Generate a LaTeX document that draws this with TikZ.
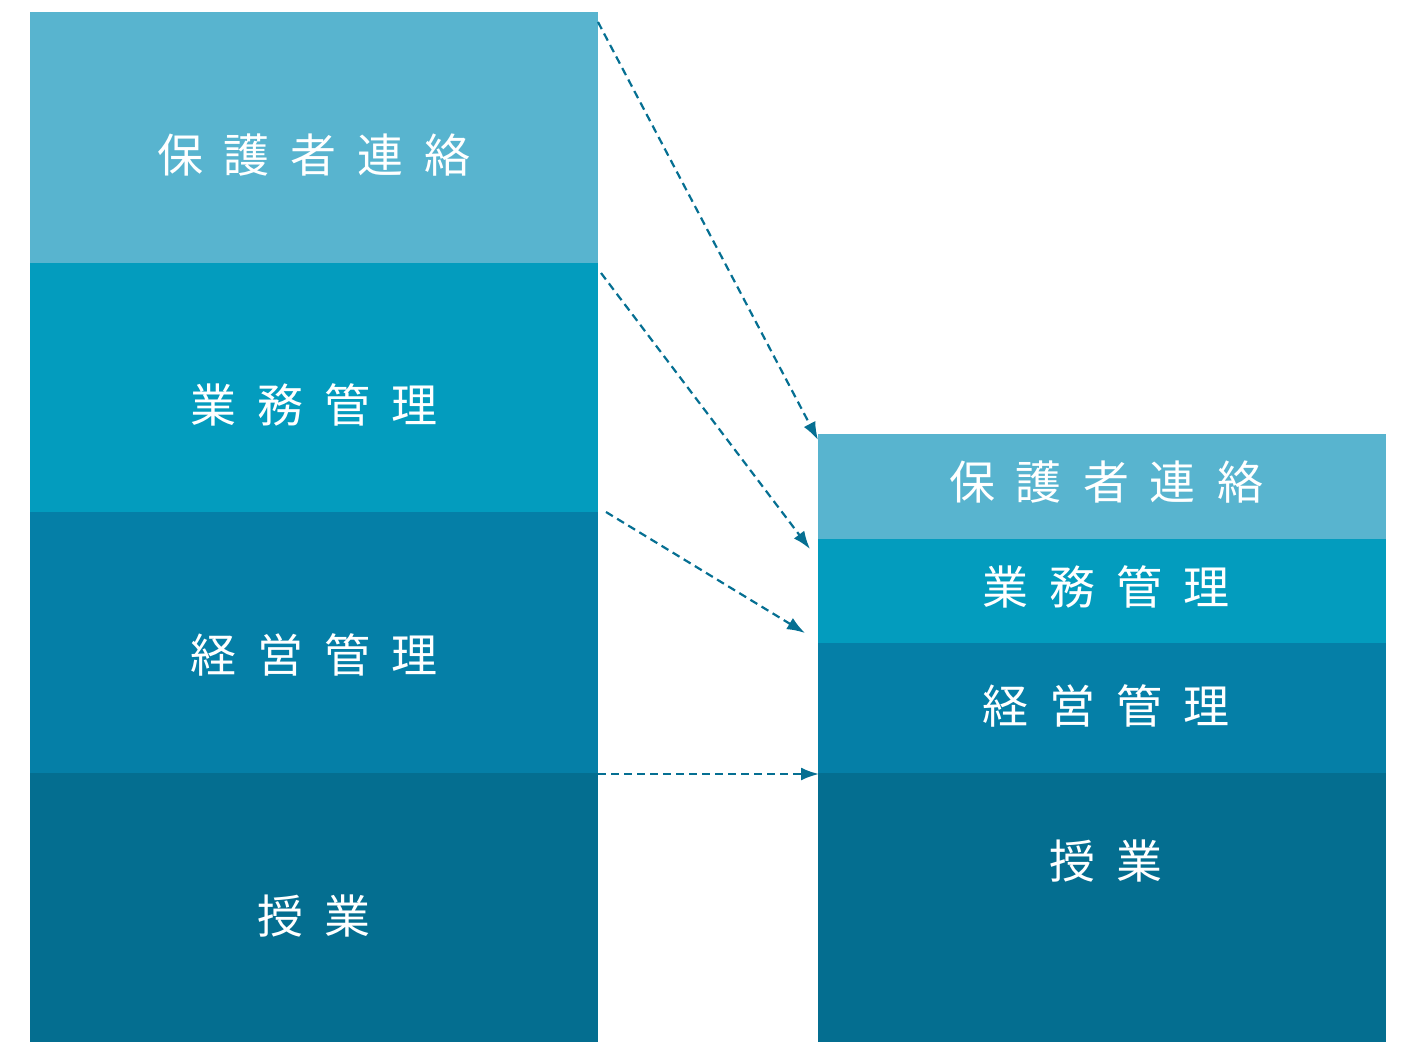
\documentclass[tikz,border=0pt]{standalone}
\usepackage{fontspec}
\newfontfamily\cjk{Noto Sans CJK JP}
\usetikzlibrary{arrows.meta}
\definecolor{c1}{HTML}{58B4CF}
\definecolor{c2}{HTML}{039CBE}
\definecolor{c3}{HTML}{057FA7}
\definecolor{c4}{HTML}{046E90}
\definecolor{arr}{HTML}{056F92}
\newcommand{\gapsp}{\hspace{21pt}}
\tikzset{
  band/.style={fill=#1, draw=none},
  lbl/.style={text=white, font=\cjk\fontsize{46}{50}\selectfont, inner sep=0pt, anchor=center},
  conn/.style={draw=arr, line width=2.2pt, dash pattern=on 8pt off 5pt, -{Latex[length=18pt,width=13pt]}}
}
\begin{document}
\begin{tikzpicture}[x=1pt,y=-1pt]
\useasboundingbox (0,0) rectangle (1411,1042);
% left column
\fill[band=c1] (30,12) rectangle (598,263);
\fill[band=c2] (30,263) rectangle (598,512);
\fill[band=c3] (30,512) rectangle (598,773);
\fill[band=c4] (30,773) rectangle (598,1042);
% right column
\fill[band=c1] (818,434) rectangle (1386,539);
\fill[band=c2] (818,539) rectangle (1386,643);
\fill[band=c3] (818,643) rectangle (1386,773);
\fill[band=c4] (818,773) rectangle (1386,1042);
% labels
\node[lbl] (l1) at (314,155) {保\gapsp 護\gapsp 者\gapsp 連\gapsp 絡};
\node[lbl] (l2) at (314,405) {業\gapsp 務\gapsp 管\gapsp 理};
\node[lbl] (l3) at (314,655) {経\gapsp 営\gapsp 管\gapsp 理};
\node[lbl] (l4) at (314,916) {授\gapsp 業};
\node[lbl] (r1) at (1106,482) {保\gapsp 護\gapsp 者\gapsp 連\gapsp 絡};
\node[lbl] (r2) at (1106,587) {業\gapsp 務\gapsp 管\gapsp 理};
\node[lbl] (r3) at (1106,706) {経\gapsp 営\gapsp 管\gapsp 理};
\node[lbl] (r4) at (1106,861) {授\gapsp 業};
% connector endpoints
\coordinate (s1) at (598,22);
\coordinate (e1) at (818,440);
\coordinate (s2) at (601,273);
\coordinate (e2) at (810,549);
\coordinate (s3) at (606,512);
\coordinate (e3) at (805,633);
\coordinate (s4) at (598,774);
\coordinate (e4) at (819,774);
\draw[conn] (s1) -- (e1);
\draw[conn] (s2) -- (e2);
\draw[conn] (s3) -- (e3);
\draw[conn] (s4) -- (e4);
\end{tikzpicture}
\end{document}
